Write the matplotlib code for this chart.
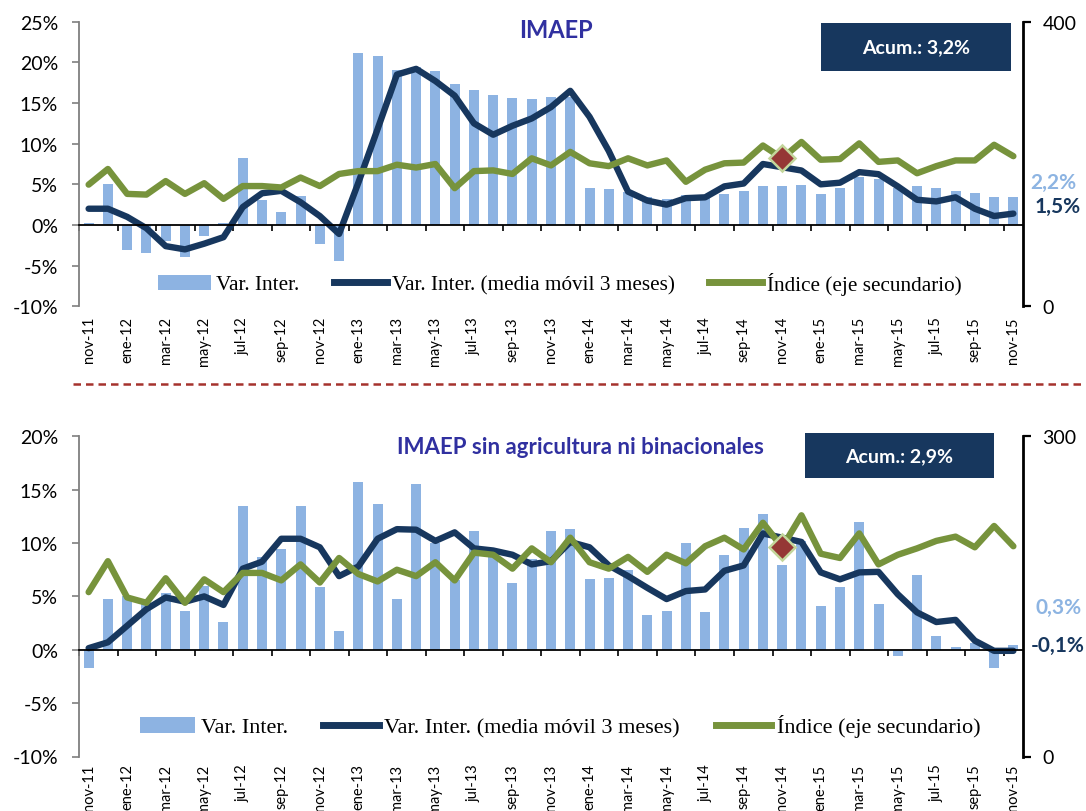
import matplotlib
matplotlib.use("Agg")
import matplotlib.pyplot as plt
from matplotlib.patches import Patch, Rectangle
from matplotlib.lines import Line2D
import numpy as np

plt.rcParams["font.family"] = ["Lato", "DejaVu Sans"]

W, H = 1086, 812

meses = ["nov-11", "dic-11", "ene-12", "feb-12", "mar-12", "abr-12", "may-12", "jun-12",
         "jul-12", "ago-12", "sep-12", "oct-12", "nov-12", "dic-12", "ene-13", "feb-13",
         "mar-13", "abr-13", "may-13", "jun-13", "jul-13", "ago-13", "sep-13", "oct-13",
         "nov-13", "dic-13", "ene-14", "feb-14", "mar-14", "abr-14", "may-14", "jun-14",
         "jul-14", "ago-14", "sep-14", "oct-14", "nov-14", "dic-14", "ene-15", "feb-15",
         "mar-15", "abr-15", "may-15", "jun-15", "jul-15", "ago-15", "sep-15", "oct-15",
         "nov-15"]

# IMAEP
imaep_var = [0.3, 5.0, -3.1, -3.5, -2.0, -3.9, -1.3, 0.3, 8.2, 3.1, 1.6, 3.6, -2.3, -4.4,
             21.1, 20.8, 19.0, 19.4, 18.9, 17.3, 16.6, 16.0, 15.6, 15.5, 15.7, 15.8,
             4.6, 4.4, 4.0, 3.4, 3.2, 3.7, 3.5, 3.8, 4.2, 4.8, 4.8, 4.9, 3.8, 4.6,
             5.9, 5.7, 4.5, 4.8, 4.5, 4.2, 3.9, 3.5, 3.4]
imaep_mm3 = [2.0, 2.0, 1.0, -0.4, -2.6, -3.0, -2.3, -1.5, 2.2, 3.9, 4.2, 2.8, 1.1, -1.1,
             5.2, 11.8, 18.5, 19.2, 17.7, 15.9, 12.5, 11.1, 12.2, 13.1, 14.5, 16.5,
             13.3, 9.1, 4.1, 3.0, 2.5, 3.3, 3.4, 4.75, 5.1, 7.5, 7.1, 6.7, 5.0, 5.2,
             6.5, 6.25, 4.75, 3.1, 2.9, 3.4, 2.0, 1.1, 1.4]
imaep_idx = [171, 193, 158, 157, 176, 158, 173, 151, 169, 169, 167, 181, 169, 186,
             190, 190, 199, 195, 200, 166, 190, 191, 186, 208, 198, 217,
             201, 197, 208, 198, 205, 175, 192, 201, 202, 226, 208, 231, 206, 207,
             229, 203, 205, 187, 197, 205, 205, 227, 211]

# IMAEP sin agricultura ni binacionales
sinag_var = [-1.7, 4.8, 5.0, 4.6, 5.3, 3.6, 6.0, 2.6, 13.5, 8.7, 9.4, 13.5, 5.9, 1.75,
             15.75, 13.7, 4.75, 15.5, 10.0, 6.5, 11.1, 9.4, 6.3, 8.5, 11.15, 11.3,
             6.6, 6.7, 7.5, 3.25, 3.65, 10.0, 3.55, 8.9, 11.4, 12.7, 7.9, 10.2, 4.1, 5.9,
             12.0, 4.25, -0.55, 7.0, 1.3, 0.3, 0.6, -1.7, 0.4]
sinag_mm3 = [0.15, 0.7, 2.25, 3.8, 4.9, 4.5, 5.0, 4.2, 7.6, 8.25, 10.4, 10.4, 9.6, 6.9,
             7.8, 10.4, 11.3, 11.25, 10.2, 11.0, 9.5, 9.3, 8.9, 8.0, 8.3, 10.1,
             9.6, 7.9, 6.9, 5.8, 4.75, 5.5, 5.65, 7.4, 7.9, 10.9, 10.5, 10.1, 7.25, 6.6,
             7.25, 7.3, 5.2, 3.5, 2.6, 2.8, 0.85, -0.1, -0.1]
sinag_idx = [154, 183, 149, 144, 167, 144, 166, 154, 172, 172, 165, 180, 163, 186,
             171, 164, 175, 169, 182, 165, 191, 189, 176, 195, 182, 205,
             182, 176, 187, 173, 189, 181, 197, 205, 194, 219, 196, 226, 190, 186,
             209, 180, 189, 195, 202, 206, 196, 216, 197]

BAR = "#8DB3E2"
NAVY = "#17375E"
GREEN = "#77933C"
TITLE = "#3030A0"
LIGHT = "#8DB4E2"


def fx(x):
    return x / W


def fy(y):
    return 1 - y / H


def panel(fig, rect, var, mm3, idx, ylo, yhi, idx_top, title, title_pos, title_size,
          acum, box, last_labels, leg_y, leg_size, pad_lab):
    ax = fig.add_axes(rect)
    x = np.arange(len(meses))
    ax.bar(x, var, width=0.52, color=BAR, zorder=2)
    ax.plot(x, mm3, color=NAVY, lw=4.6, zorder=3, solid_joinstyle="round",
            solid_capstyle="round")
    ax.set_xlim(-0.5, len(meses) - 0.5)
    ax.set_ylim(ylo, yhi)
    ax.set_yticks(np.arange(ylo, yhi + 1, 5))
    ax.set_yticklabels([f"{v}%" for v in range(ylo, yhi + 1, 5)])
    ax.tick_params(axis="y", direction="out", length=5, width=1.2, color="#7F7F7F",
                   labelsize=14, pad=10)
    ax.set_xticks(np.arange(-0.5, len(meses), 2))
    ax.set_xticklabels([])
    ax.tick_params(axis="x", direction="out", length=4, width=1.2, color="black")
    for s in ["top", "right"]:
        ax.spines[s].set_visible(False)
    ax.spines["left"].set_color("#7F7F7F")
    ax.spines["left"].set_linewidth(1.3)
    ax.spines["bottom"].set_position(("data", 0))
    ax.spines["bottom"].set_linewidth(1.3)
    ax.spines["bottom"].set_zorder(4)

    sec = ax.secondary_xaxis(0.0)
    sec.set_xticks(x[::2])
    sec.set_xticklabels(meses[::2], rotation=90, fontsize=10.5)
    sec.tick_params(length=0, pad=pad_lab)
    sec.spines["bottom"].set_visible(False)

    ax2 = ax.twinx()
    ax2.plot(x, idx, color=GREEN, lw=4.6, zorder=3, solid_joinstyle="round",
             solid_capstyle="round")
    ax2.plot(x[36], idx[36], marker="D", ms=13, mfc="#953735", mec="#C3D69B", mew=1.8,
             zorder=5)
    ax2.set_ylim(0, idx_top)
    ax2.set_yticks([0, idx_top])
    ax2.tick_params(axis="y", direction="out", length=6, width=1.6, color="black",
                    labelsize=14, pad=8)
    for s in ["top", "left", "bottom"]:
        ax2.spines[s].set_visible(False)
    ax2.spines["right"].set_linewidth(2)
    ax2.spines["right"].set_color("black")

    fig.text(fx(title_pos[0]), fy(title_pos[1]), title, color=TITLE, fontsize=title_size,
             fontweight="bold", ha="center", va="center")

    x0, y0, x1, y1 = box
    fig.add_artist(Rectangle((fx(x0), fy(y1)), fx(x1 - x0), (y1 - y0) / H,
                             transform=fig.transFigure, facecolor=NAVY, edgecolor="none"))
    fig.text(fx((x0 + x1) / 2), fy((y0 + y1) / 2), acum, color="white", fontsize=14,
             fontweight="bold", ha="center", va="center")

    for txt, px, py, col in last_labels:
        fig.text(fx(px), fy(py), txt, color=col, fontsize=15, fontweight="bold",
                 ha="center", va="center")

    handles = [Patch(facecolor=BAR, edgecolor="none"),
               Line2D([], [], color=NAVY, lw=5),
               Line2D([], [], color=GREEN, lw=5)]
    labels = ["Var. Inter.", "Var. Inter. (media móvil 3 meses)", "Índice (eje secundario)"]
    fig.legend(handles, labels, loc="center", bbox_to_anchor=(fx(560), fy(leg_y)),
               ncol=3, frameon=False, prop={"family": "Liberation Serif", "size": leg_size},
               handlelength=2.5, handletextpad=0.25, columnspacing=1.6, handleheight=0.7)
    return ax


fig = plt.figure(figsize=(W / 100, H / 100), dpi=100)

panel(fig, [fx(79), fy(307.3), fx(944), 284.6 / H], imaep_var, imaep_mm3, imaep_idx,
      -10, 25, 400, "IMAEP", (556, 30), 17, "Acum.: 3,2%", (821, 24, 1011, 72),
      [("2,2%", 1053, 183, LIGHT), ("1,5%", 1058, 207, NAVY)], 284, 15.3, 7)

panel(fig, [fx(79), fy(757.5), fx(944), 320.2 / H], sinag_var, sinag_mm3, sinag_idx,
      -10, 20, 300, "IMAEP sin agricultura ni binacionales", (580, 448), 16,
      "Acum.: 2,9%", (805, 434, 994, 479),
      [("0,3%", 1059, 608, LIGHT), ("-0,1%", 1058, 646, NAVY)], 727, 16, 5)

fig.add_artist(Line2D([fx(73), 1.0], [fy(385), fy(385)], transform=fig.transFigure,
                      color="#A5322D", lw=1.8, dashes=[3, 2]))

fig.savefig("out.png", dpi=100)
